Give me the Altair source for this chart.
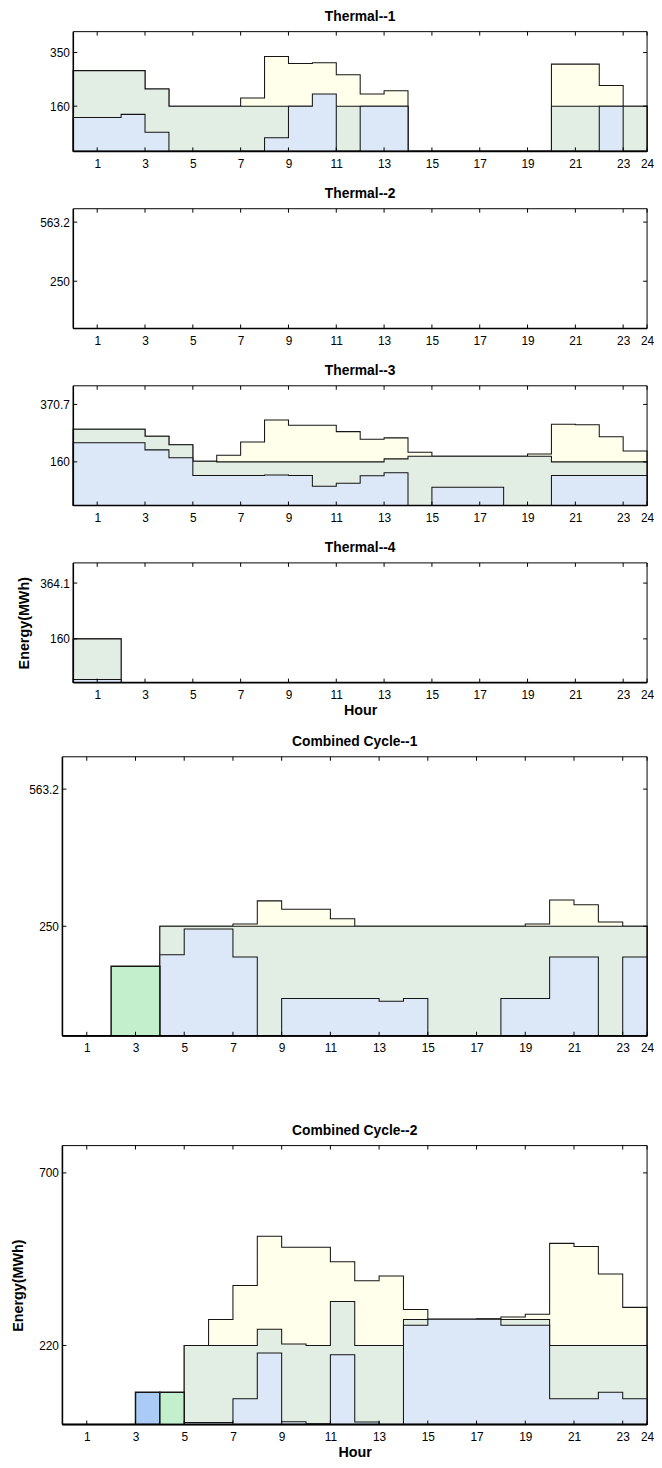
import altair as alt
import pandas as pd

FONT = "Liberation Sans"
EDGE = "#151515"
UPPER_FILL = "#ffffeb"
MIDDLE_FILL = "#e2ede3"
LOWER_FILL = "#dce8f8"
START_BLUE = "#a9cbf5"
START_GREEN = "#c3efcc"

X_TICKS = [1, 3, 5, 7, 9, 11, 13, 15, 17, 19, 21, 23, 24]

# ---- Thermal--1 (one value per hour segment 1..24)
T1_UPPER = [286, 286, 286, 221, 160, 160, 160, 189, 336, 311, 314, 271, 203, 215, 0, 0, 0, 0, 0, 0, 309, 309, 233, 160]
T1_MIDDLE = [286, 286, 286, 221, 160, 160, 160, 160, 160, 160, 160, 160, 160, 160, 0, 0, 0, 0, 0, 0, 160, 160, 160, 160]
T1_LOWER = [120, 120, 131, 68, 0, 0, 0, 0, 48, 160, 203, 0, 160, 160, 0, 0, 0, 0, 0, 0, 0, 0, 160, 0]
T1_YTICKS = [160, 350]
T1_YMAX = 424

# ---- Thermal--2
T2_UPPER = [0, 0, 0, 0, 0, 0, 0, 0, 0, 0, 0, 0, 0, 0, 0, 0, 0, 0, 0, 0, 0, 0, 0, 0]
T2_MIDDLE = [0, 0, 0, 0, 0, 0, 0, 0, 0, 0, 0, 0, 0, 0, 0, 0, 0, 0, 0, 0, 0, 0, 0, 0]
T2_LOWER = [0, 0, 0, 0, 0, 0, 0, 0, 0, 0, 0, 0, 0, 0, 0, 0, 0, 0, 0, 0, 0, 0, 0, 0]
T2_YTICKS = [250, 563.2]
T2_YMAX = 634

# ---- Thermal--3
T3_UPPER = [280, 280, 280, 254, 223, 162, 184, 233, 314, 294, 294, 271, 243, 248, 195, 181, 181, 181, 181, 189, 298, 296, 252, 200]
T3_MIDDLE = [280, 280, 280, 254, 223, 162, 160, 160, 160, 160, 160, 160, 160, 171, 181, 181, 181, 181, 181, 181, 160, 160, 160, 160]
T3_LOWER = [230, 230, 230, 204, 175, 110, 110, 110, 112, 110, 71, 82, 109, 120, 0, 67, 67, 67, 0, 0, 110, 110, 110, 110]
T3_YTICKS = [160, 370.7]
T3_YMAX = 439

# ---- Thermal--4
T4_UPPER = [160, 160, 0, 0, 0, 0, 0, 0, 0, 0, 0, 0, 0, 0, 0, 0, 0, 0, 0, 0, 0, 0, 0, 0]
T4_MIDDLE = [160, 160, 0, 0, 0, 0, 0, 0, 0, 0, 0, 0, 0, 0, 0, 0, 0, 0, 0, 0, 0, 0, 0, 0]
T4_LOWER = [11, 11, 0, 0, 0, 0, 0, 0, 0, 0, 0, 0, 0, 0, 0, 0, 0, 0, 0, 0, 0, 0, 0, 0]
T4_YTICKS = [160, 364.1]
T4_YMAX = 438

# ---- Combined Cycle--1
CC1_UPPER = [0, 0, 0, 0, 250, 250, 250, 255, 308, 289, 289, 267, 250, 250, 250, 250, 250, 250, 250, 255, 310, 299, 260, 250]
CC1_MIDDLE = [0, 0, 0, 0, 250, 250, 250, 250, 250, 250, 250, 250, 250, 250, 250, 250, 250, 250, 250, 250, 250, 250, 250, 250]
CC1_LOWER = [0, 0, 0, 0, 185, 244, 244, 180, 0, 85, 85, 85, 85, 79, 85, 0, 0, 0, 85, 85, 180, 180, 0, 180]
CC1_START_BLUE = [0, 0, 0, 0, 0, 0, 0, 0, 0, 0, 0, 0, 0, 0, 0, 0, 0, 0, 0, 0, 0, 0, 0, 0]
CC1_START_GREEN = [0, 0, 159, 159, 0, 0, 0, 0, 0, 0, 0, 0, 0, 0, 0, 0, 0, 0, 0, 0, 0, 0, 0, 0]
CC1_YTICKS = [250, 563.2]
CC1_YMAX = 637

# ---- Combined Cycle--2
CC2_UPPER = [0, 0, 0, 0, 0, 220, 292, 387, 524, 493, 493, 453, 400, 413, 320, 293, 293, 294, 299, 307, 504, 495, 419, 326]
CC2_MIDDLE = [0, 0, 0, 0, 0, 220, 220, 220, 265, 224, 220, 342, 220, 220, 292, 293, 293, 293, 292, 292, 220, 220, 220, 220]
CC2_LOWER = [0, 0, 0, 0, 0, 6, 6, 72, 199, 8, 2, 194, 7, 0, 276, 293, 293, 293, 276, 276, 72, 72, 90, 72]
CC2_START_BLUE = [0, 0, 0, 90, 0, 0, 0, 0, 0, 0, 0, 0, 0, 0, 0, 0, 0, 0, 0, 0, 0, 0, 0, 0]
CC2_START_GREEN = [0, 0, 0, 0, 90, 0, 0, 0, 0, 0, 0, 0, 0, 0, 0, 0, 0, 0, 0, 0, 0, 0, 0, 0]
CC2_YTICKS = [220, 700]
CC2_YMAX = 776

PLOT_W = 591
THERMAL_H = 121
CC_H = 282
THERMAL_SHIFT = 11
TICK_FS = 12
TITLE_FS = 14
AXIS_TITLE_FS = 14.5


def step_df(vals):
    hours = list(range(25))
    ys = list(vals) + [vals[-1]]
    return pd.DataFrame({"hour": hours, "mwh": ys})


def make_panel(title, series, ymax, yticks, height, shift, x_title="", y_title="", y_title_x=0):
    xs = alt.Scale(domain=[0, 24], range=[shift, PLOT_W], nice=False, zero=False)
    ys = alt.Scale(domain=[0, ymax], nice=False, zero=False)

    x_axis_kw = dict(values=X_TICKS, ticks=False, domain=False, grid=False, labelFont=FONT,
                     labelFontSize=TICK_FS, labelPadding=7, labelColor="black", labelFlush=False,
                     labelOverlap=False, format="d")
    if x_title:
        x_axis_kw.update(titleFont=FONT, titleFontSize=AXIS_TITLE_FS, titleFontWeight="bold",
                         titlePadding=3, titleColor="black")
    y_axis_kw = dict(values=yticks, ticks=False, domain=False, grid=False, labelFont=FONT,
                     labelFontSize=TICK_FS, labelPadding=4, labelColor="black",
                     labelExpr="'' + datum.value", labelFlush=False, labelOverlap=False)
    if shift:
        y_axis_kw["offset"] = -shift
    if y_title:
        y_axis_kw.update(titleFont=FONT, titleFontSize=AXIS_TITLE_FS, titleFontWeight="bold",
                         titleColor="black", titleAngle=270, titleX=y_title_x, titleY=height / 2,
                         titleBaseline="middle", titleAlign="center")
    x_axis = alt.Axis(**x_axis_kw)
    y_axis = alt.Axis(**y_axis_kw)

    def xenc(field):
        return alt.X(field, type="quantitative", scale=xs, axis=x_axis, title=x_title)

    def yenc(field):
        return alt.Y(field, type="quantitative", scale=ys, axis=y_axis, title=y_title)

    layers = []
    for vals, fill, sw in series:
        layers.append(
            alt.Chart(step_df(vals)).mark_area(
                interpolate="step-after", fill=fill, stroke=EDGE, strokeWidth=sw, opacity=1
            ).encode(x=xenc("hour"), y=yenc("mwh"))
        )

    # frame (box) drawn through the scales
    frame_thick = pd.DataFrame({"hour": [0, 0], "hour2": [24, 0], "mwh": [0, 0], "mwh2": [0, ymax]})
    frame_thin = pd.DataFrame({"hour": [0, 24], "hour2": [24, 24], "mwh": [ymax, 0], "mwh2": [ymax, ymax]})
    for fdf, w in ((frame_thick, 1.6), (frame_thin, 1.0)):
        layers.append(
            alt.Chart(fdf).mark_rule(color="black", strokeWidth=w).encode(
                x=xenc("hour"), x2="hour2:Q", y=yenc("mwh"), y2="mwh2:Q")
        )

    # inward ticks
    xt = pd.DataFrame({"hour": X_TICKS})
    layers.append(alt.Chart(xt).mark_rule(color="black", strokeWidth=1).encode(
        x=xenc("hour"), y=alt.value(height), y2=alt.value(height - 4)))
    layers.append(alt.Chart(xt).mark_rule(color="black", strokeWidth=1).encode(
        x=xenc("hour"), y=alt.value(0), y2=alt.value(4)))
    yt = pd.DataFrame({"mwh": yticks})
    layers.append(alt.Chart(yt).mark_rule(color="black", strokeWidth=1).encode(
        y=yenc("mwh"), x=alt.value(shift), x2=alt.value(shift + 4)))
    layers.append(alt.Chart(yt).mark_rule(color="black", strokeWidth=1).encode(
        y=yenc("mwh"), x=alt.value(PLOT_W - 4), x2=alt.value(PLOT_W)))

    return alt.layer(*layers).properties(
        width=PLOT_W, height=height,
        title=alt.TitleParams(text=title, font=FONT, fontSize=TITLE_FS, fontWeight="bold", color="black",
                              offset=7, anchor="middle", dx=shift / 2),
    )


SW = 1.05
t1 = make_panel("Thermal--1", [(T1_UPPER, UPPER_FILL, SW), (T1_MIDDLE, MIDDLE_FILL, SW), (T1_LOWER, LOWER_FILL, SW)],
                T1_YMAX, T1_YTICKS, THERMAL_H, THERMAL_SHIFT)
t2 = make_panel("Thermal--2", [(T2_UPPER, UPPER_FILL, SW), (T2_MIDDLE, MIDDLE_FILL, SW), (T2_LOWER, LOWER_FILL, SW)],
                T2_YMAX, T2_YTICKS, THERMAL_H, THERMAL_SHIFT)
t3 = make_panel("Thermal--3", [(T3_UPPER, UPPER_FILL, SW), (T3_MIDDLE, MIDDLE_FILL, SW), (T3_LOWER, LOWER_FILL, SW)],
                T3_YMAX, T3_YTICKS, THERMAL_H, THERMAL_SHIFT)
t4 = make_panel("Thermal--4", [(T4_UPPER, UPPER_FILL, SW), (T4_MIDDLE, MIDDLE_FILL, SW), (T4_LOWER, LOWER_FILL, SW)],
                T4_YMAX, T4_YTICKS, THERMAL_H, THERMAL_SHIFT, x_title="Hour", y_title="Energy(MWh)", y_title_x=-49)
cc1 = make_panel("Combined Cycle--1", [(CC1_UPPER, UPPER_FILL, SW), (CC1_MIDDLE, MIDDLE_FILL, SW), (CC1_LOWER, LOWER_FILL, SW),
                                       (CC1_START_BLUE, START_BLUE, 1.5), (CC1_START_GREEN, START_GREEN, 1.5)],
                 CC1_YMAX, CC1_YTICKS, CC_H, 0)
cc2 = make_panel("Combined Cycle--2", [(CC2_UPPER, UPPER_FILL, SW), (CC2_MIDDLE, MIDDLE_FILL, SW), (CC2_LOWER, LOWER_FILL, SW),
                                       (CC2_START_BLUE, START_BLUE, 1.5), (CC2_START_GREEN, START_GREEN, 1.5)],
                 CC2_YMAX, CC2_YTICKS, CC_H, 0, x_title="Hour", y_title="Energy(MWh)", y_title_x=-44)

spacer = alt.Chart(pd.DataFrame({"hour": [0]})).mark_point(opacity=0).encode(
    x=alt.X("hour:Q", axis=None), y=alt.value(0)).properties(width=PLOT_W, height=32)

chart = alt.vconcat(t1, t2, t3, t4, cc1, spacer, cc2, spacing=18).properties(
    padding={"left": 3, "top": -6, "right": 0, "bottom": 0}, background="white"
).configure_view(stroke=None)

chart.save("out.html", embed_options={"renderer": "svg", "actions": False})
